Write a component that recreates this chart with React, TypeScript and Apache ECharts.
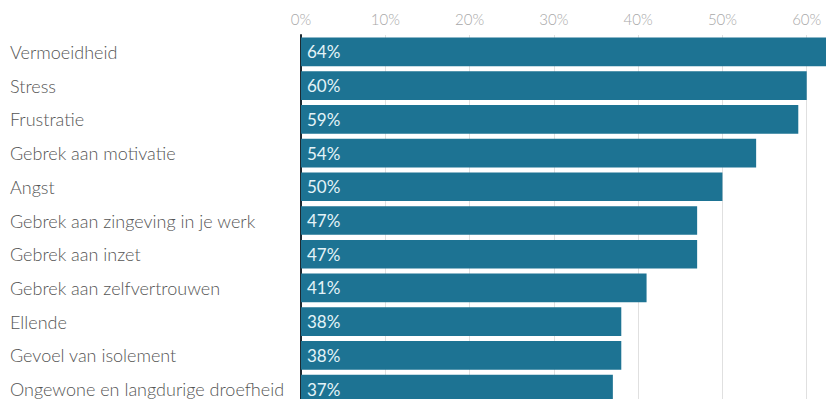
import React, { useEffect, useRef } from "react";
import * as echarts from "echarts";

const categories = [
  "Vermoeidheid",
  "Stress",
  "Frustratie",
  "Gebrek aan motivatie",
  "Angst",
  "Gebrek aan zingeving in je werk",
  "Gebrek aan inzet",
  "Gebrek aan zelfvertrouwen",
  "Ellende",
  "Gevoel van isolement",
  "Ongewone en langdurige droefheid",
];
const values = [64, 60, 59, 54, 50, 47, 47, 41, 38, 38, 37];
const tickMax = 70;
const tickStep = 10;

export default function App() {
  const ref = useRef<HTMLDivElement>(null);
  useEffect(() => {
    if (!ref.current) return;
    const chart = echarts.init(ref.current, undefined, { renderer: "svg" });
    chart.setOption({
      animation: false,
      grid: {
        left: 301,
        top: 35,
        width: 590,
        height: 371,
        containLabel: false,
        outerBoundsMode: "none",
      },
      xAxis: {
        type: "value",
        position: "top",
        min: 0,
        max: tickMax,
        interval: tickStep,
        axisLine: { show: false },
        axisTick: { show: false },
        axisLabel: {
          formatter: "{value}%",
          showMaxLabel: false,
          color: "#a8a8a8",
          fontFamily: "Lato",
          fontWeight: 300,
          fontSize: 15,
          margin: 9,
        },
        splitLine: { show: true, lineStyle: { color: "#e0e0e0", width: 1 } },
      },
      yAxis: {
        type: "category",
        inverse: true,
        data: categories,
        axisLine: { show: true, lineStyle: { color: "#1e2a32", width: 2 } },
        axisTick: { show: false },
        axisLabel: {
          align: "left",
          margin: 291,
          color: "#555555",
          fontFamily: "Lato",
          fontWeight: 300,
          fontSize: 18,
        },
      },
      series: [
        {
          type: "bar",
          data: values,
          barCategoryGap: "15%",
          itemStyle: { color: "#1d7393" },
          label: {
            show: true,
            position: "insideLeft",
            distance: 6,
            formatter: "{c}%",
            color: "#e4f3f8",
            fontFamily: "Lato",
            fontWeight: "normal",
            fontSize: 17,
          },
        },
      ],
    });
    return () => chart.dispose();
  }, []);
  return (
    <div
      ref={ref}
      style={{ position: "fixed", left: 0, top: 0, width: 826, height: 399, background: "#fff" }}
    />
  );
}
